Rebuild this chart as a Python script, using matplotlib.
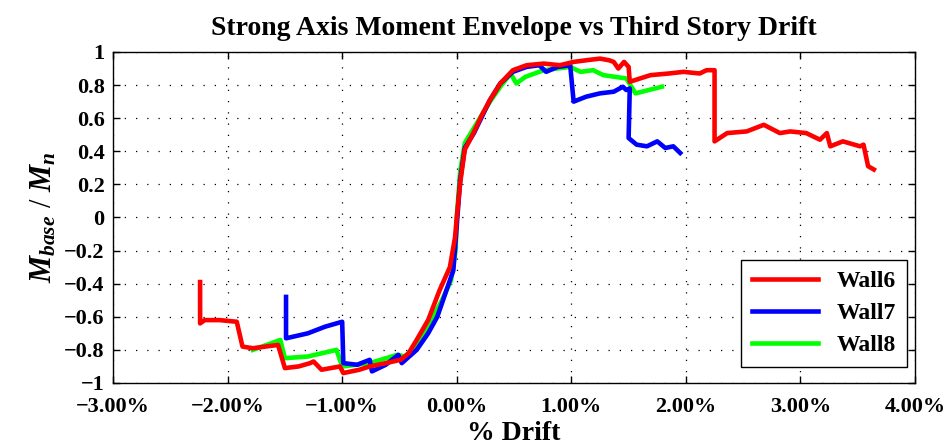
import matplotlib
matplotlib.use("Agg")
import matplotlib.pyplot as plt
from matplotlib.ticker import FuncFormatter

plt.rcParams["font.family"] = ["Liberation Serif", "DejaVu Serif"]
plt.rcParams["font.weight"] = "bold"
plt.rcParams["mathtext.fontset"] = "custom"
plt.rcParams["mathtext.rm"] = "Liberation Serif:bold"
plt.rcParams["mathtext.bf"] = "Liberation Serif:bold"
plt.rcParams["mathtext.it"] = "Liberation Serif:bold:italic"
plt.rcParams["mathtext.bfit"] = "Liberation Serif:bold:italic"

# Drift envelopes (% drift) and normalized base moment
wall6_drift = [-2.24, -2.24, -2.20, -2.07, -1.92, -1.87, -1.78, -1.56, -1.50, -1.38,
               -1.28, -1.25, -1.18, -1.02, -0.99, -0.85, -0.76, -0.62, -0.49, -0.42,
               -0.35, -0.25, -0.15, -0.06, -0.015, 0.0, 0.03, 0.07, 0.145, 0.22,
               0.29, 0.38, 0.49, 0.61, 0.76, 0.90, 1.02, 1.13, 1.25, 1.33,
               1.37, 1.41, 1.46, 1.50, 1.51, 1.60, 1.69, 1.85, 1.98, 2.12,
               2.18, 2.25, 2.25, 2.36, 2.53, 2.68, 2.82, 2.91, 3.05, 3.17,
               3.23, 3.26, 3.37, 3.52, 3.55, 3.59, 3.64]
wall6_m = [-0.39, -0.64, -0.62, -0.62, -0.63, -0.78, -0.79, -0.77, -0.91, -0.90,
           -0.88, -0.87, -0.92, -0.90, -0.94, -0.92, -0.90, -0.88, -0.86, -0.82,
           -0.74, -0.62, -0.44, -0.30, -0.12, 0.0, 0.21, 0.41, 0.51, 0.62,
           0.71, 0.81, 0.89, 0.92, 0.93, 0.92, 0.94, 0.95, 0.96, 0.95,
           0.94, 0.90, 0.94, 0.91, 0.82, 0.84, 0.86, 0.87, 0.88, 0.87,
           0.89, 0.89, 0.46, 0.51, 0.52, 0.56, 0.51, 0.52, 0.51, 0.47,
           0.51, 0.43, 0.46, 0.43, 0.44, 0.31, 0.29]

wall7_drift = [-1.49, -1.49, -1.30, -1.15, -1.00, -0.99, -0.87, -0.76, -0.74, -0.62,
               -0.51, -0.48, -0.35, -0.25, -0.17, -0.09, -0.03, 0.0, 0.03, 0.07,
               0.15, 0.29, 0.38, 0.49, 0.61, 0.72, 0.78, 0.88, 0.99, 1.02,
               1.13, 1.25, 1.37, 1.45, 1.48, 1.51, 1.50, 1.57, 1.66, 1.75,
               1.82, 1.89, 1.95]
wall7_m = [-0.48, -0.73, -0.70, -0.66, -0.63, -0.88, -0.89, -0.86, -0.93, -0.89,
           -0.83, -0.88, -0.80, -0.70, -0.60, -0.44, -0.32, -0.05, 0.23, 0.42,
           0.51, 0.71, 0.81, 0.88, 0.91, 0.92, 0.88, 0.91, 0.92, 0.70,
           0.73, 0.75, 0.76, 0.79, 0.77, 0.78, 0.48, 0.44, 0.43, 0.46,
           0.42, 0.43, 0.39]

wall8_drift = [-1.78, -1.54, -1.50, -1.30, -1.05, -1.00, -0.88, -0.76, -0.52, -0.45,
               -0.35, -0.25, -0.13, -0.05, -0.01, 0.0, 0.03, 0.07, 0.14, 0.29,
               0.38, 0.47, 0.52, 0.60, 0.76, 0.99, 1.08, 1.19, 1.28, 1.48,
               1.56, 1.79]
wall8_m = [-0.80, -0.74, -0.85, -0.84, -0.80, -0.90, -0.89, -0.88, -0.83, -0.84,
           -0.77, -0.66, -0.50, -0.38, -0.20, 0.0, 0.28, 0.45, 0.53, 0.70,
           0.79, 0.87, 0.81, 0.85, 0.89, 0.91, 0.88, 0.89, 0.86, 0.84,
           0.75, 0.79]

x_ticks = [-3, -2, -1, 0, 1, 2, 3, 4]
y_ticks = [-1, -0.8, -0.6, -0.4, -0.2, 0, 0.2, 0.4, 0.6, 0.8, 1]

fig = plt.figure(figsize=(9.53, 4.47), dpi=100)
ax = fig.add_axes([0.1186, 0.1432, 0.8416, 0.7405])

lw = 3.3
ax.plot(wall8_drift, wall8_m, color="#00ff00", linewidth=lw, zorder=2)
ax.plot(wall7_drift, wall7_m, color="#0000ff", linewidth=lw, zorder=3)
ax.plot(wall6_drift, wall6_m, color="#ff0000", linewidth=lw, zorder=4)

# legend order follows wall number
h6, = ax.plot([], [], color="#ff0000", linewidth=lw, label="Wall6")
h7, = ax.plot([], [], color="#0000ff", linewidth=lw, label="Wall7")
h8, = ax.plot([], [], color="#00ff00", linewidth=lw, label="Wall8")
leg = ax.legend(handles=[h6, h7, h8], loc="lower right", fontsize=17,
                bbox_to_anchor=(0.99, 0.048), borderaxespad=0,
                fancybox=False, framealpha=1, edgecolor="black",
                handlelength=2.8, labelspacing=0.45, borderpad=0.45)
leg.get_frame().set_linewidth(1.0)

ax.set_xlim(-3, 4)
ax.set_ylim(-1, 1)
ax.set_xticks(x_ticks)
ax.set_yticks(y_ticks)
ax.xaxis.set_major_formatter(FuncFormatter(lambda v, p: f"{v:.2f}%".replace("-", "\u2212")))
ax.yaxis.set_major_formatter(FuncFormatter(lambda v, p: f"{v:g}".replace("-", "\u2212")))
ax.tick_params(direction="in", top=True, right=True, length=5, width=1, labelsize=16)
ax.tick_params(axis="x", pad=10)
ax.tick_params(axis="y", pad=6)
ax.grid(True, color="black", linestyle=(0, (1, 8)), linewidth=0.9)
for s in ax.spines.values():
    s.set_linewidth(1.0)

ax.set_title("Strong Axis Moment Envelope vs Third Story Drift", fontsize=20,
             fontweight="bold", pad=12)
ax.set_xlabel("% Drift", fontsize=20, fontweight="bold", labelpad=3)
ax.set_ylabel(r"$M_{base}$ / $M_n$", fontsize=22, labelpad=4)

fig.savefig("out.png", dpi=100)
